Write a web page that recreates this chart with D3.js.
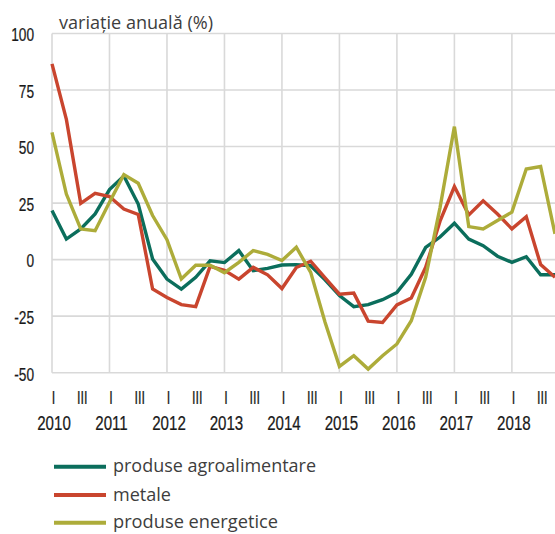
<!DOCTYPE html>
<html>
<head>
<meta charset="utf-8">
<script src="https://cdn.jsdelivr.net/npm/d3@7/dist/d3.min.js"></script>
<style>
  html, body { margin: 0; padding: 0; background: #fff; }
  svg { display: block; }
  .tick-lbl { font-family: "Liberation Sans", Arial, sans-serif; fill: #1a1a1a; stroke: #1a1a1a; stroke-width: 0.25; }
  .txt { font-family: "Open Sans", "Noto Sans", sans-serif; fill: #3d3d3d; }
</style>
</head>
<body>
<script>
// ---- data ----
const years = ["2010","2011","2012","2013","2014","2015","2016","2017","2018"];
const quarters = ["I","II","III","IV"];
const yTicks = [100, 75, 50, 25, 0, -25, -50];
const seriesNames = ["produse agroalimentare", "metale", "produse energetice"];
const agro = [21.7, 9.1, 13.6, 20.2, 31, 37, 24.6, 0.3, -8.6, -13, -7.8, -0.5,
              -1.3, 4, -4.9, -3.9, -2.4, -2.2, -2.7, -8.9, -15.9, -20.8, -19.9, -17.7,
              -14.5, -6.5, 5.4, 10, 16.1, 9.1, 6.2, 1.5, -1.2, 1.3, -6.7, -6.7];
const metale = [86.6, 62, 24.9, 29.3, 27.9, 22.4, 20, -13, -16.7, -19.9, -20.8, -3,
                -4.7, -8.6, -3.4, -6.7, -12.8, -3.5, -0.7, -8.1, -15.3, -14.8, -27.2, -27.8,
                -20, -17, -3.4, 17, 32.3, 19.8, 26, 20.2, 13.6, 19, -2.2, -7.8];
const energetice = [56.3, 29, 13.6, 12.8, 25.4, 37.6, 33.8, 19.5, 8.8, -8.6, -2.5, -2.5,
                    -5.8, -1.2, 4, 2.3, -0.4, 5.5, -5.6, -27.7, -47.2, -42.5, -48.4, -42.5,
                    -37.3, -27, -7.8, 23, 58.8, 14.6, 13.6, 17.3, 21, 40.1, 41.2, 11.4];
const colors = ["#0b6e5c", "#c9452e", "#adac3a"];

// ---- layout ----
const W = 555, H = 534;
const svg = d3.select("body").append("svg").attr("width", W).attr("height", H);

const n = agro.length;
const x = d3.scaleLinear().domain([0, n - 1]).range([52, 555]);
const y = d3.scaleLinear().domain([-50, 100]).range([372.7, 33.5]);
const SX = 0.72; // horizontal condensing of tick label font

const grid = svg.append("g").attr("stroke", "#d9d9d9").attr("stroke-width", 1.6);
grid.selectAll("line.h").data(yTicks).enter().append("line")
  .attr("x1", x(0)).attr("x2", W)
  .attr("y1", d => y(d)).attr("y2", d => y(d));
grid.selectAll("line.v").data(years).enter().append("line")
  .attr("x1", (d, i) => x(i * 4)).attr("x2", (d, i) => x(i * 4))
  .attr("y1", y(100)).attr("y2", y(-50));

// y labels
svg.append("g").selectAll("text").data(yTicks).enter().append("text")
  .attr("class", "tick-lbl")
  .attr("transform", d => `translate(34,${y(d) + 7.8}) scale(${SX},1)`)
  .attr("text-anchor", "end").attr("font-size", 19)
  .text(d => d);

// quarter labels
const qIdx = d3.range(n).filter(i => i % 4 === 0 || i % 4 === 2);
svg.append("g").selectAll("text").data(qIdx).enter().append("text")
  .attr("class", "tick-lbl")
  .attr("transform", i => `translate(${x(i) + 1.5},404) scale(${SX},1)`)
  .attr("text-anchor", "middle").attr("font-size", 17.5)
  .text(i => quarters[i % 4]);

// year labels
svg.append("g").selectAll("text").data(years).enter().append("text")
  .attr("class", "tick-lbl")
  .attr("transform", (d, i) => `translate(${x(i * 4) + 2},430) scale(${SX},1)`)
  .attr("text-anchor", "middle").attr("font-size", 21)
  .text(d => d);

// title
svg.append("text").attr("class", "txt")
  .attr("x", 59).attr("y", 29).attr("font-size", 19)
  .attr("textLength", 154).attr("lengthAdjust", "spacingAndGlyphs")
  .text("variație anuală (%)");

// lines
const line = d3.line().x((d, i) => x(i)).y(d => y(d));
const all = [agro, metale, energetice];
svg.append("g").selectAll("path").data(all).enter().append("path")
  .attr("d", d => line(d))
  .attr("fill", "none")
  .attr("stroke", (d, i) => colors[i])
  .attr("stroke-width", 3.4)
  .attr("stroke-linejoin", "miter");

// legend
const lg = svg.append("g");
const lgY = [466.7, 495, 522.7];
const lgW = [203, 58, 165];
seriesNames.forEach((name, i) => {
  lg.append("line").attr("x1", 54).attr("x2", 106)
    .attr("y1", lgY[i]).attr("y2", lgY[i])
    .attr("stroke", colors[i]).attr("stroke-width", 4);
  lg.append("text").attr("class", "txt")
    .attr("x", 113).attr("y", lgY[i] + 5.5).attr("font-size", 19)
    .attr("textLength", lgW[i]).attr("lengthAdjust", "spacingAndGlyphs")
    .text(name);
});
</script>
</body>
</html>
